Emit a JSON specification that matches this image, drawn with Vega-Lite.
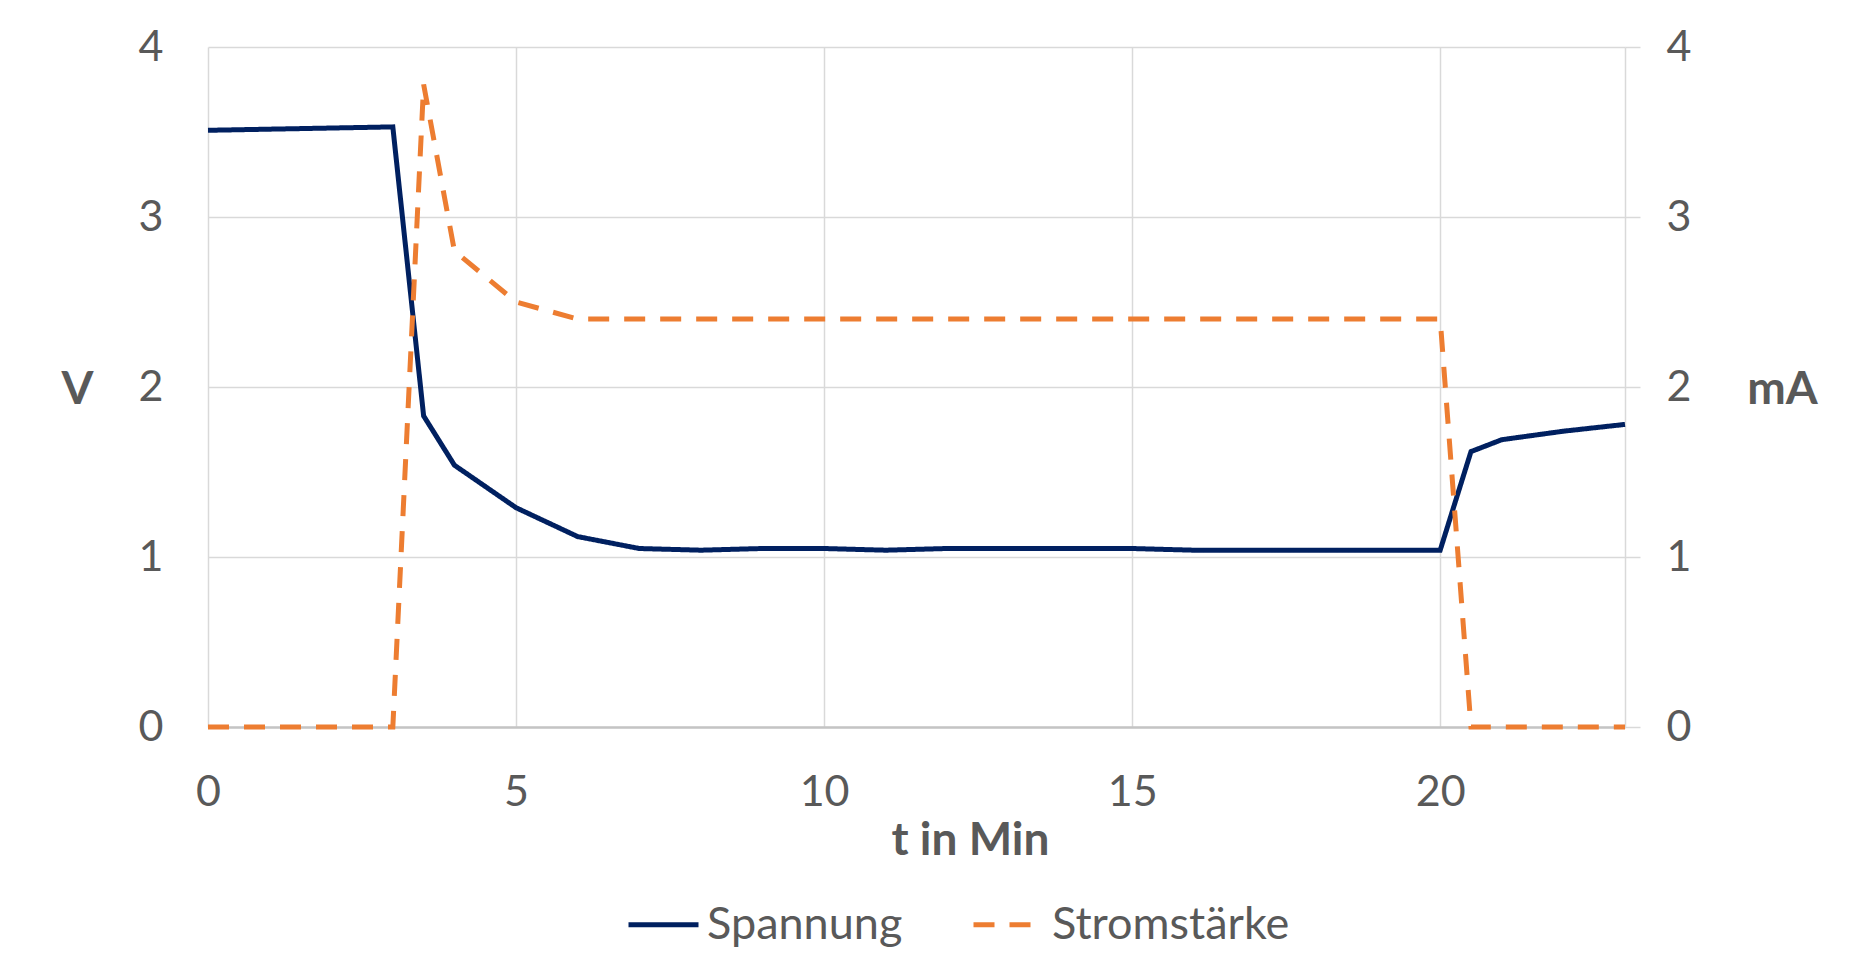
{
  "$schema": "https://vega.github.io/schema/vega-lite/v6.json",
  "width": 1417,
  "height": 680,
  "autosize": {"type": "none"},
  "padding": {"left": 208, "top": 47, "right": 238, "bottom": 243},
  "background": "white",
  "config": {
    "font": "Lato",
    "view": {"stroke": null},
    "axis": {"labelColor": "#595959", "titleColor": "#595959", "labelFont": "Lato", "titleFont": "Lato", "labelFontSize": 43, "titleFontSize": 46, "titleFontWeight": "bold", "labelFontWeight": "normal"}
  },
  "data": {"values": [
    {"t": 0, "series": "Spannung", "value": 3.51},
    {"t": 3, "series": "Spannung", "value": 3.53},
    {"t": 3.5, "series": "Spannung", "value": 1.83},
    {"t": 4, "series": "Spannung", "value": 1.54},
    {"t": 5, "series": "Spannung", "value": 1.29},
    {"t": 6, "series": "Spannung", "value": 1.12},
    {"t": 7, "series": "Spannung", "value": 1.05},
    {"t": 8, "series": "Spannung", "value": 1.04},
    {"t": 9, "series": "Spannung", "value": 1.05},
    {"t": 10, "series": "Spannung", "value": 1.05},
    {"t": 11, "series": "Spannung", "value": 1.04},
    {"t": 12, "series": "Spannung", "value": 1.05},
    {"t": 13, "series": "Spannung", "value": 1.05},
    {"t": 14, "series": "Spannung", "value": 1.05},
    {"t": 15, "series": "Spannung", "value": 1.05},
    {"t": 16, "series": "Spannung", "value": 1.04},
    {"t": 17, "series": "Spannung", "value": 1.04},
    {"t": 18, "series": "Spannung", "value": 1.04},
    {"t": 19, "series": "Spannung", "value": 1.04},
    {"t": 20, "series": "Spannung", "value": 1.04},
    {"t": 20.5, "series": "Spannung", "value": 1.62},
    {"t": 21, "series": "Spannung", "value": 1.69},
    {"t": 22, "series": "Spannung", "value": 1.74},
    {"t": 23, "series": "Spannung", "value": 1.78},
    {"t": 0, "series": "Stromstärke", "value": 0},
    {"t": 3, "series": "Stromstärke", "value": 0},
    {"t": 3.5, "series": "Stromstärke", "value": 3.78},
    {"t": 4, "series": "Stromstärke", "value": 2.8},
    {"t": 5, "series": "Stromstärke", "value": 2.5},
    {"t": 6, "series": "Stromstärke", "value": 2.4},
    {"t": 7, "series": "Stromstärke", "value": 2.4},
    {"t": 8, "series": "Stromstärke", "value": 2.4},
    {"t": 9, "series": "Stromstärke", "value": 2.4},
    {"t": 10, "series": "Stromstärke", "value": 2.4},
    {"t": 11, "series": "Stromstärke", "value": 2.4},
    {"t": 12, "series": "Stromstärke", "value": 2.4},
    {"t": 13, "series": "Stromstärke", "value": 2.4},
    {"t": 14, "series": "Stromstärke", "value": 2.4},
    {"t": 15, "series": "Stromstärke", "value": 2.4},
    {"t": 16, "series": "Stromstärke", "value": 2.4},
    {"t": 17, "series": "Stromstärke", "value": 2.4},
    {"t": 18, "series": "Stromstärke", "value": 2.4},
    {"t": 19, "series": "Stromstärke", "value": 2.4},
    {"t": 20, "series": "Stromstärke", "value": 2.4},
    {"t": 20.5, "series": "Stromstärke", "value": 0},
    {"t": 21, "series": "Stromstärke", "value": 0},
    {"t": 22, "series": "Stromstärke", "value": 0},
    {"t": 23, "series": "Stromstärke", "value": 0}
  ]},
  "encoding": {
    "x": {
      "field": "t", "type": "quantitative",
      "scale": {"domain": [0, 23], "nice": false, "zero": false},
      "axis": {
        "values": [0, 5, 10, 15, 20],
        "grid": true, "gridColor": "#d9d9d9", "gridWidth": 1.5,
        "domain": true, "domainColor": "#c4c4c4", "domainWidth": 2.5,
        "ticks": false, "labelFlush": false, "labelPadding": 44,
        "title": "t in Min", "titleX": 762, "titleY": 113, "titleBaseline": "middle", "titleAlign": "center"
      }
    },
    "color": {
      "field": "series", "type": "nominal",
      "scale": {"domain": ["Spannung", "Stromstärke"], "range": ["#002060", "#ED7D31"]},
      "legend": {
        "title": null, "orient": "none", "legendX": 418, "legendY": 840, "direction": "horizontal",
        "symbolType": "stroke", "symbolSize": 4900, "symbolStrokeWidth": 5,
        "labelFontSize": 45, "labelColor": "#595959", "labelFont": "Lato", "labelLimit": 0,
        "labelOffset": 6, "columnPadding": 60
      }
    },
    "strokeDash": {
      "field": "series", "type": "nominal",
      "scale": {"domain": ["Spannung", "Stromstärke"], "range": [[1, 0], [21, 15]]},
      "legend": {
        "title": null, "orient": "none", "legendX": 418, "legendY": 840, "direction": "horizontal",
        "symbolType": "stroke", "symbolSize": 4900, "symbolStrokeWidth": 5,
        "labelFontSize": 45, "labelColor": "#595959", "labelFont": "Lato", "labelLimit": 0,
        "labelOffset": 6, "columnPadding": 60
      }
    }
  },
  "layer": [
    {
      "transform": [{"filter": "datum.series === 'Spannung'"}],
      "mark": {"type": "line", "strokeWidth": 5},
      "encoding": {
        "y": {
          "field": "value", "type": "quantitative",
          "scale": {"domain": [0, 4], "nice": false},
          "axis": {
            "orient": "left", "values": [0, 1, 2, 3, 4],
            "grid": true, "gridColor": "#d9d9d9", "gridWidth": 1.5,
            "domain": false, "ticks": false, "labelPadding": 45,
            "title": "V", "titleAngle": 0, "titleX": -131, "titleY": 342, "titleAlign": "center", "titleBaseline": "middle"
          }
        }
      }
    },
    {
      "transform": [{"filter": "datum.series === 'Stromstärke'"}],
      "mark": {"type": "line", "strokeWidth": 5},
      "encoding": {
        "y": {
          "field": "value", "type": "quantitative",
          "scale": {"domain": [0, 4], "nice": false},
          "axis": {
            "orient": "right", "values": [0, 1, 2, 3, 4],
            "grid": false,
            "domain": true, "domainColor": "#d9d9d9", "domainWidth": 1.5,
            "ticks": true, "tickColor": "#d9d9d9", "tickWidth": 1.5, "tickSize": 15,
            "labelPadding": 26,
            "title": "mA", "titleAngle": 0, "titleX": 157, "titleY": 342, "titleAlign": "center", "titleBaseline": "middle"
          }
        }
      }
    }
  ],
  "resolve": {"scale": {"y": "independent"}}
}
